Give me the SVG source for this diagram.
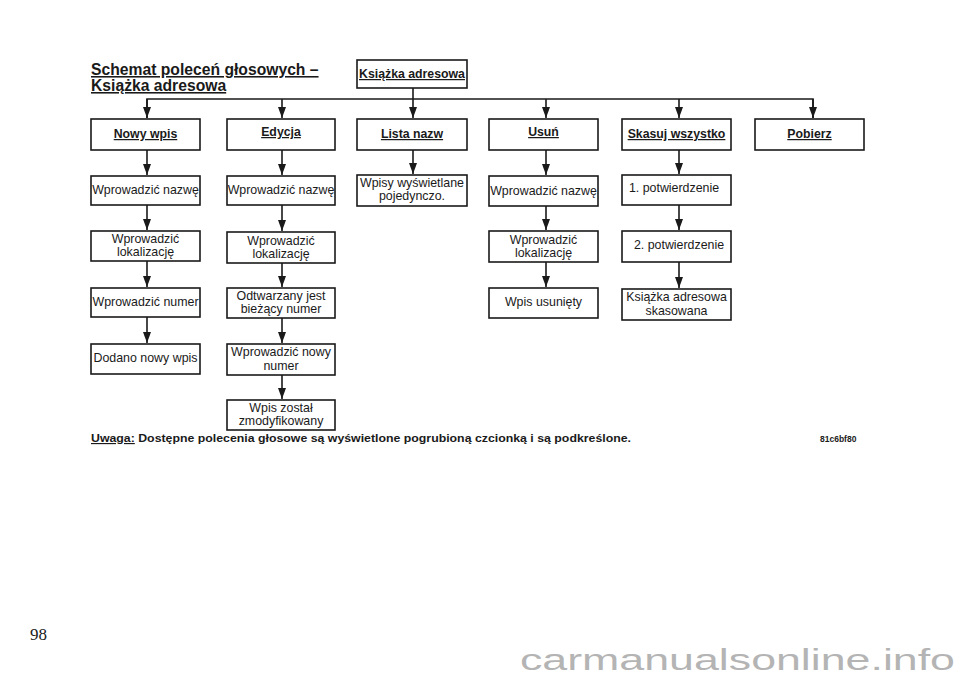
<svg xmlns="http://www.w3.org/2000/svg" width="960" height="678" viewBox="0 0 960 678">
<style>
.box{fill:#fff;stroke:#1a1a1a;stroke-width:1.6}
.hd{font-family:"Liberation Sans",Arial,sans-serif;font-size:12.3px;font-weight:bold;text-anchor:middle;fill:#1a1a1a;text-decoration:underline}
.tx{font-family:"Liberation Sans",Arial,sans-serif;font-size:12.4px;text-anchor:middle;fill:#1a1a1a}
.ln{fill:none;stroke:#1a1a1a;stroke-width:1.6}
.ttl{font-family:"Liberation Sans",Arial,sans-serif;font-size:15.7px;font-weight:bold;fill:#1a1a1a;text-decoration:underline}
</style>
<defs>
<marker id="ar" markerUnits="userSpaceOnUse" markerWidth="8" markerHeight="12" refX="4" refY="11" orient="0">
<path d="M0,0 L8,0 L4,11 z" fill="#1a1a1a"/>
</marker>
</defs>
<rect width="960" height="678" fill="#fff"/>

<g id="title">
<text class="ttl" x="91" y="75">Schemat poleceń głosowych –</text>
<text class="ttl" x="91" y="91">Książka adresowa</text>
</g>

<g id="connectors">
<line class="ln" x1="413" y1="88" x2="413" y2="118" marker-end="url(#ar)"/>
<polyline class="ln" points="147,118 147,99 813,99 813,118"/>
<line class="ln" x1="147" y1="99" x2="147" y2="118" marker-end="url(#ar)"/>
<line class="ln" x1="282" y1="99" x2="282" y2="118" marker-end="url(#ar)"/>
<line class="ln" x1="546" y1="99" x2="546" y2="118" marker-end="url(#ar)"/>
<line class="ln" x1="679" y1="99" x2="679" y2="118" marker-end="url(#ar)"/>
<line class="ln" x1="813" y1="99" x2="813" y2="118" marker-end="url(#ar)"/>

<line class="ln" x1="147" y1="150" x2="147" y2="175" marker-end="url(#ar)"/>
<line class="ln" x1="147" y1="205" x2="147" y2="230" marker-end="url(#ar)"/>
<line class="ln" x1="147" y1="261" x2="147" y2="287" marker-end="url(#ar)"/>
<line class="ln" x1="147" y1="317" x2="147" y2="343" marker-end="url(#ar)"/>

<line class="ln" x1="282" y1="150" x2="282" y2="175" marker-end="url(#ar)"/>
<line class="ln" x1="282" y1="205" x2="282" y2="231" marker-end="url(#ar)"/>
<line class="ln" x1="282" y1="263" x2="282" y2="287" marker-end="url(#ar)"/>
<line class="ln" x1="282" y1="318" x2="282" y2="343" marker-end="url(#ar)"/>
<line class="ln" x1="282" y1="375" x2="282" y2="399" marker-end="url(#ar)"/>

<line class="ln" x1="413" y1="150" x2="413" y2="174" marker-end="url(#ar)"/>

<line class="ln" x1="546" y1="150" x2="546" y2="175" marker-end="url(#ar)"/>
<line class="ln" x1="546" y1="206" x2="546" y2="230" marker-end="url(#ar)"/>
<line class="ln" x1="546" y1="262" x2="546" y2="287" marker-end="url(#ar)"/>

<line class="ln" x1="679" y1="150" x2="679" y2="174" marker-end="url(#ar)"/>
<line class="ln" x1="679" y1="205" x2="679" y2="230" marker-end="url(#ar)"/>
<line class="ln" x1="679" y1="262" x2="679" y2="288" marker-end="url(#ar)"/>
</g>

<g id="n-root"><rect class="box" x="357" y="60" width="110" height="28"/><text class="hd" x="412" y="78">Książka adresowa</text></g>

<g id="n-nowy"><rect class="box" x="91" y="119" width="109" height="31"/><text class="hd" x="145.5" y="138">Nowy wpis</text></g>
<g id="n-edycja"><rect class="box" x="227" y="119" width="108" height="31"/><text class="hd" x="281" y="136">Edycja</text></g>
<g id="n-lista"><rect class="box" x="357" y="119" width="110" height="31"/><text class="hd" x="412" y="138">Lista nazw</text></g>
<g id="n-usun"><rect class="box" x="489" y="119" width="109" height="31"/><text class="hd" x="543.5" y="136">Usuń</text></g>
<g id="n-skasuj"><rect class="box" x="622" y="119" width="109" height="31"/><text class="hd" x="676.5" y="138">Skasuj wszystko</text></g>
<g id="n-pobierz"><rect class="box" x="755" y="119" width="109" height="31"/><text class="hd" x="809.5" y="138">Pobierz</text></g>

<g id="n-nw1"><rect class="box" x="91" y="176" width="109" height="29"/><text class="tx" x="145.5" y="194">Wprowadzić nazwę</text></g>
<g id="n-nw2"><rect class="box" x="91" y="231" width="109" height="30"/><text class="tx" x="145.5" y="243">Wprowadzić</text><text class="tx" x="145.5" y="256">lokalizację</text></g>
<g id="n-nw3"><rect class="box" x="91" y="288" width="109" height="29"/><text class="tx" x="145.5" y="306">Wprowadzić numer</text></g>
<g id="n-nw4"><rect class="box" x="91" y="344" width="109" height="30"/><text class="tx" x="145.5" y="362">Dodano nowy wpis</text></g>

<g id="n-ed1"><rect class="box" x="227" y="176" width="108" height="29"/><text class="tx" x="281" y="194">Wprowadzić nazwę</text></g>
<g id="n-ed2"><rect class="box" x="227" y="232" width="108" height="31"/><text class="tx" x="281" y="245">Wprowadzić</text><text class="tx" x="281" y="258">lokalizację</text></g>
<g id="n-ed3"><rect class="box" x="227" y="288" width="108" height="30"/><text class="tx" x="281" y="300">Odtwarzany jest</text><text class="tx" x="281" y="313">bieżący numer</text></g>
<g id="n-ed4"><rect class="box" x="227" y="344" width="108" height="31"/><text class="tx" x="281" y="356">Wprowadzić nowy</text><text class="tx" x="281" y="370">numer</text></g>
<g id="n-ed5"><rect class="box" x="227" y="400" width="108" height="30"/><text class="tx" x="281" y="412">Wpis został</text><text class="tx" x="281" y="425">zmodyfikowany</text></g>

<g id="n-ls1"><rect class="box" x="357" y="175" width="110" height="31"/><text class="tx" x="412" y="187">Wpisy wyświetlane</text><text class="tx" x="412" y="200">pojedynczo.</text></g>

<g id="n-us1"><rect class="box" x="489" y="176" width="109" height="30"/><text class="tx" x="543.5" y="195">Wprowadzić nazwę</text></g>
<g id="n-us2"><rect class="box" x="489" y="231" width="109" height="31"/><text class="tx" x="543.5" y="244">Wprowadzić</text><text class="tx" x="543.5" y="257">lokalizację</text></g>
<g id="n-us3"><rect class="box" x="489" y="288" width="109" height="30"/><text class="tx" x="543.5" y="306">Wpis usunięty</text></g>

<g id="n-sk1"><rect class="box" x="622" y="175" width="109" height="30"/><text class="tx" x="674" y="192">1. potwierdzenie</text></g>
<g id="n-sk2"><rect class="box" x="622" y="231" width="109" height="31"/><text class="tx" x="679" y="249">2. potwierdzenie</text></g>
<g id="n-sk3"><rect class="box" x="622" y="289" width="109" height="31"/><text class="tx" x="676.5" y="301">Książka adresowa</text><text class="tx" x="676.5" y="315">skasowana</text></g>

<g id="footer">
<text x="91" y="442" font-family="'Liberation Sans',Arial,sans-serif" font-size="11.5px" font-weight="bold" fill="#1a1a1a" textLength="540" lengthAdjust="spacingAndGlyphs"><tspan text-decoration="underline">Uwaga:</tspan> Dostępne polecenia głosowe są wyświetlone pogrubioną czcionką i są podkreślone.</text>
<text x="820" y="442" font-family="'Liberation Sans',Arial,sans-serif" font-size="8.5px" font-weight="bold" fill="#1a1a1a">81c6bf80</text>
<text x="30" y="640" font-family="'Liberation Serif','Times New Roman',serif" font-size="17px" fill="#1a1a1a">98</text>
<text x="520" y="670" font-family="'Liberation Sans',Arial,sans-serif" font-size="29px" fill="#b4b4b4" textLength="435" lengthAdjust="spacingAndGlyphs">carmanualsonline.info</text>
</g>
</svg>
